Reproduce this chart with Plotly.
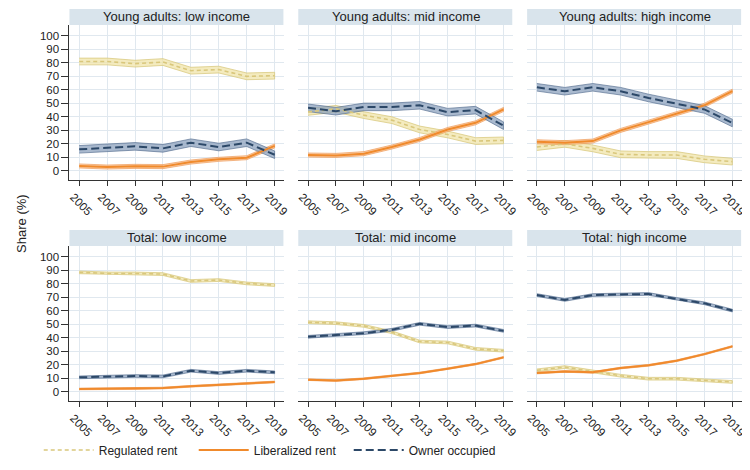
import plotly.graph_objects as go

years = [2005, 2007, 2009, 2011, 2013, 2015, 2017, 2019]
series_names = ["Regulated rent", "Liberalized rent", "Owner occupied"]
panel_titles = ["Young adults: low income", "Young adults: mid income", "Young adults: high income",
                "Total: low income", "Total: mid income", "Total: high income"]
y_ticks = list(range(0, 101, 10))

# Young adults
ya_low_reg = [81.0, 81.0, 79.4, 80.6, 74.2, 75.0, 70.0, 70.5]
ya_low_lib = [3.7, 2.9, 3.4, 3.2, 6.6, 8.6, 9.8, 18.5]
ya_low_own = [16.0, 17.0, 18.2, 16.7, 20.9, 17.7, 20.9, 12.0]

ya_mid_reg = [43.7, 46.0, 41.3, 37.6, 30.7, 27.0, 22.1, 22.6]
ya_mid_lib = [11.8, 11.5, 12.8, 17.7, 23.3, 30.7, 35.6, 45.5]
ya_mid_own = [46.7, 44.2, 47.4, 47.4, 48.6, 43.5, 45.0, 33.5]

ya_high_reg = [17.7, 20.1, 16.7, 12.3, 11.8, 11.8, 8.6, 6.9]
ya_high_lib = [21.6, 20.9, 22.1, 30.0, 36.1, 42.3, 48.6, 59.0]
ya_high_own = [61.9, 59.0, 61.9, 59.0, 54.0, 49.6, 45.5, 35.5]

# Total
t_low_reg = [88.5, 87.7, 87.7, 87.2, 82.1, 82.8, 80.3, 79.1]
t_low_lib = [2.2, 2.5, 2.5, 2.9, 4.2, 5.2, 6.1, 7.4]
t_low_own = [10.8, 11.5, 11.8, 11.5, 15.7, 14.0, 15.7, 14.5]

t_mid_reg = [51.6, 50.9, 48.9, 44.2, 37.3, 36.6, 31.9, 30.5]
t_mid_lib = [9.1, 8.4, 9.8, 12.0, 14.0, 17.2, 20.6, 25.6]
t_mid_own = [40.8, 42.3, 43.5, 46.0, 50.4, 48.0, 49.1, 45.2]

t_high_reg = [16.0, 18.4, 15.2, 12.0, 9.8, 9.8, 8.6, 7.4]
t_high_lib = [14.0, 15.2, 14.5, 17.7, 19.7, 23.1, 28.0, 33.7]
t_high_own = [71.7, 68.1, 71.7, 72.2, 72.5, 68.8, 65.6, 60.2]

# CI half-widths (percentage points) per row: regulated, liberalized, owner
ci_young = [2.5, 1.5, 2.8]
ci_total = [1.0, 0.6, 1.0]

panels = [
    (ya_low_reg, ya_low_lib, ya_low_own, ci_young),
    (ya_mid_reg, ya_mid_lib, ya_mid_own, ci_young),
    (ya_high_reg, ya_high_lib, ya_high_own, ci_young),
    (t_low_reg, t_low_lib, t_low_own, ci_total),
    (t_mid_reg, t_mid_lib, t_mid_own, ci_total),
    (t_high_reg, t_high_lib, t_high_own, ci_total),
]

line_colors = ["#d9c77c", "#f08a2c", "#2c4868"]
band_fill = ["rgba(240,228,170,0.75)", "rgba(247,190,140,0.75)", "rgba(140,162,190,0.75)"]
band_edge = ["rgba(214,198,120,0.9)", "rgba(238,150,80,0.8)", "rgba(80,105,140,0.8)"]
dashes = ["4px,3px", "solid", "8px,4px"]
widths = [1.6, 2.0, 2.0]

W, H = 750, 470
col_px = [(60, 277), (291, 508), (522, 739)]
row_px = [(17, 172), (238, 393)]
strip_h = 16

fig = go.Figure()
layout = {}
for i, (reg, lib, own, ci) in enumerate(panels):
    r, c = divmod(i, 3)
    n = i + 1
    xa = "x" if n == 1 else f"x{n}"
    ya = "y" if n == 1 else f"y{n}"
    vals = [reg, lib, own]
    for s in range(3):
        up = [v + ci[s] for v in vals[s]]
        lo = [v - ci[s] for v in vals[s]]
        fig.add_trace(go.Scatter(
            x=years + years[::-1], y=up + lo[::-1], fill="toself",
            fillcolor=band_fill[s], line=dict(color=band_edge[s], width=0.8),
            mode="lines", hoverinfo="skip", showlegend=False, xaxis=xa, yaxis=ya))
    for s in range(3):
        fig.add_trace(go.Scatter(
            x=years, y=vals[s], mode="lines", name=series_names[s],
            line=dict(color=line_colors[s], width=widths[s], dash=dashes[s]),
            showlegend=(i == 0), xaxis=xa, yaxis=ya))
    x0, x1 = col_px[c]
    t, b = row_px[r]
    layout["xaxis" if n == 1 else f"xaxis{n}"] = dict(
        domain=[x0 / W, x1 / W], anchor=ya, range=[2004.3, 2019.7],
        tickvals=years, ticktext=[str(y) for y in years], tickangle=45,
        ticklabelshift=-6,
        showline=True, linecolor="#333333", linewidth=1, ticks="outside",
        ticklen=5, tickcolor="#333333", showgrid=True, gridcolor="#e0e8ef",
        gridwidth=1, zeroline=False, tickfont=dict(size=11.5, color="#222222"))
    layout["yaxis" if n == 1 else f"yaxis{n}"] = dict(
        domain=[1 - b / H, 1 - t / H], anchor=xa, range=[-6.7, 108],
        tickvals=y_ticks, showticklabels=(c == 0),
        showline=(c == 0), linecolor="#333333", linewidth=1,
        ticks="outside" if c == 0 else "", ticklen=7, tickcolor="#333333",
        showgrid=True, gridcolor="#e0e8ef", gridwidth=1, zeroline=False,
        tickfont=dict(size=11.5, color="#222222"))
    fig.add_shape(type="rect", xref="paper", yref="paper",
                  x0=x0 / W, x1=(x1 - 1) / W, y0=1 - t / H, y1=1 - (t - strip_h) / H,
                  fillcolor="#d9e4ec", line=dict(width=0), layer="below")
    fig.add_annotation(x=(x0 + x1) / 2 / W, y=1 - (t - strip_h / 2) / H, xref="paper",
                       yref="paper", text=panel_titles[i], showarrow=False,
                       font=dict(size=13, color="#222222"), xanchor="center", yanchor="middle")

fig.add_annotation(x=12 / W, y=1 - 215 / H, xref="paper", yref="paper", text="Share (%)",
                   textangle=-90, showarrow=False, xanchor="center", yanchor="middle",
                   font=dict(size=13, color="#222222"))

fig.update_layout(
    width=W, height=H, margin=dict(l=0, r=0, t=0, b=0),
    paper_bgcolor="white", plot_bgcolor="white",
    font=dict(family="Liberation Sans, Arial, sans-serif"),
    legend=dict(orientation="h", x=29 / W, y=1 - 442 / H, xanchor="left", yanchor="middle",
                font=dict(size=12, color="#222222", family="Liberation Sans Narrow, Liberation Sans, Arial"),
                entrywidth=90, entrywidthmode="pixels",
                itemwidth=50, bgcolor="rgba(0,0,0,0)"),
    **layout)

fig.write_html("out.html")
